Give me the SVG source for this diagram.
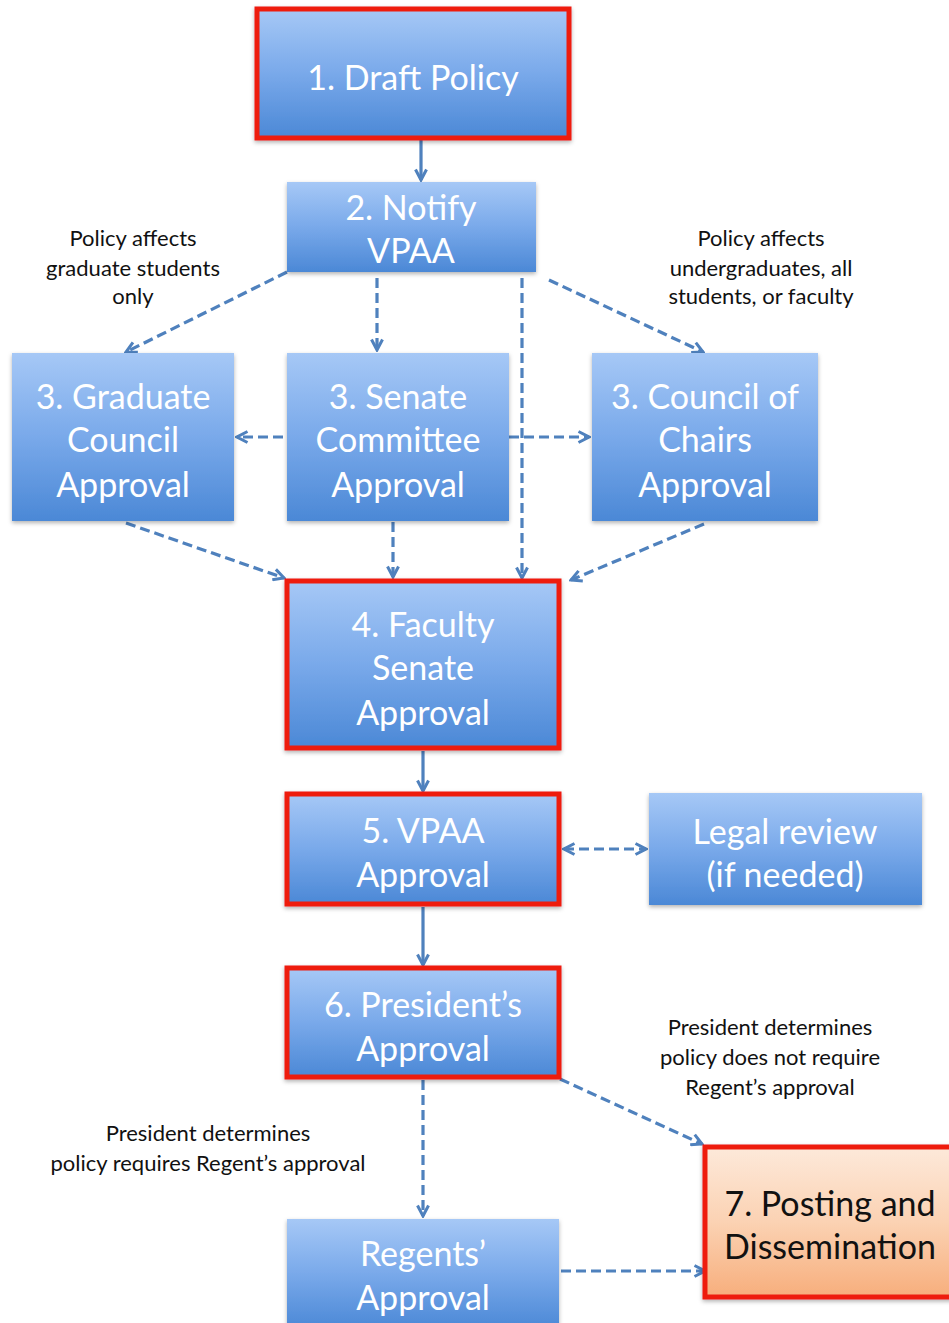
<svg xmlns="http://www.w3.org/2000/svg" width="949" height="1323" viewBox="0 0 949 1323">
<defs>
<linearGradient id="blue" x1="0" y1="0" x2="0" y2="1">
<stop offset="0" stop-color="#a6c8f6"/>
<stop offset="0.5" stop-color="#79a9ea"/>
<stop offset="1" stop-color="#4b88d6"/>
</linearGradient>
<linearGradient id="orange" x1="0" y1="0" x2="0" y2="1">
<stop offset="0" stop-color="#fde9da"/>
<stop offset="0.5" stop-color="#fbd2b3"/>
<stop offset="1" stop-color="#f7ae7c"/>
</linearGradient>
<filter id="sh" x="-10%" y="-10%" width="120%" height="130%">
<feDropShadow dx="0" dy="2" stdDeviation="2" flood-color="#000" flood-opacity="0.3"/>
</filter>
<marker id="arr" viewBox="0 0 14 14" refX="12" refY="7" markerWidth="14" markerHeight="14" markerUnits="userSpaceOnUse" orient="auto-start-reverse">
<path d="M1.5,1.5 L12,7 L1.5,12.5" fill="none" stroke="#4f81bd" stroke-width="3"/>
</marker>
</defs>
<style>
.box{fill:url(#blue);filter:url(#sh)}
.red{fill:url(#blue);stroke:#ee1c0e;stroke-width:5;filter:url(#sh)}
.org{fill:url(#orange);stroke:#ee1c0e;stroke-width:5;filter:url(#sh)}
.t{font-family:Lato,"Open Sans",sans-serif;font-size:34px;fill:#ffffff;text-anchor:middle}
.td{font-family:Lato,"Open Sans",sans-serif;font-size:34px;fill:#111111;text-anchor:middle}
.lb{font-family:Lato,"Open Sans",sans-serif;font-size:22px;fill:#111111;text-anchor:middle}
.c{fill:none;stroke:#4f81bd;stroke-width:3.2;marker-end:url(#arr)}
.d{stroke-dasharray:10,5}
</style>
<rect width="949" height="1323" fill="#ffffff"/>
<g id="connectors">
<line class="c" x1="421" y1="140" x2="421" y2="180"/>
<line class="c d" x1="287" y1="272" x2="126" y2="352"/>
<line class="c d" x1="377" y1="278" x2="377" y2="350"/>
<line class="c d" x1="522" y1="278" x2="522" y2="578"/>
<line class="c d" x1="549" y1="280" x2="703" y2="352"/>
<line class="c d" x1="298" y1="437" x2="237" y2="437"/>
<line class="c d" x1="509" y1="437" x2="589" y2="437"/>
<line class="c d" x1="126" y1="523" x2="284" y2="578"/>
<line class="c d" x1="393" y1="522" x2="393" y2="577"/>
<line class="c d" x1="704" y1="524" x2="571" y2="580"/>
<line class="c" x1="423" y1="751" x2="423" y2="791"/>
<line class="c d" x1="564" y1="849" x2="646" y2="849" marker-start="url(#arr)"/>
<line class="c" x1="423" y1="907" x2="423" y2="965"/>
<line class="c d" x1="423" y1="1080" x2="423" y2="1216"/>
<line class="c d" x1="560" y1="1079" x2="702" y2="1144"/>
<line class="c d" x1="561" y1="1271" x2="705" y2="1271"/>
</g>
<g id="n1"><rect class="red" x="257" y="9" width="312" height="129"/><text class="t" x="413" y="90">1. Draft Policy</text></g>
<g id="n2"><rect class="box" x="287" y="182" width="249" height="90"/><text class="t" x="411" y="220">2. Notify</text><text class="t" x="411" y="263">VPAA</text></g>
<g id="n3a"><rect class="box" x="12" y="353" width="222" height="168"/><text class="t" x="123" y="409">3. Graduate</text><text class="t" x="123" y="452">Council</text><text class="t" x="123" y="497">Approval</text></g>
<g id="n3b"><rect class="box" x="287" y="353" width="222" height="168"/><text class="t" x="398" y="409">3. Senate</text><text class="t" x="398" y="452">Committee</text><text class="t" x="398" y="497">Approval</text></g>
<g id="n3c"><rect class="box" x="592" y="353" width="226" height="168"/><text class="t" x="705" y="409">3. Council of</text><text class="t" x="705" y="452">Chairs</text><text class="t" x="705" y="497">Approval</text></g>
<g id="n4"><rect class="red" x="287" y="581" width="272" height="167"/><text class="t" x="423" y="637">4. Faculty</text><text class="t" x="423" y="680">Senate</text><text class="t" x="423" y="725">Approval</text></g>
<g id="n5"><rect class="red" x="287" y="794" width="272" height="110"/><text class="t" x="423" y="843">5. VPAA</text><text class="t" x="423" y="887">Approval</text></g>
<g id="nlegal"><rect class="box" x="649" y="793" width="273" height="112"/><text class="t" x="785" y="844">Legal review</text><text class="t" x="785" y="887">(if needed)</text></g>
<g id="n6"><rect class="red" x="287" y="968" width="272" height="109"/><text class="t" x="423" y="1017">6. President’s</text><text class="t" x="423" y="1061">Approval</text></g>
<g id="nregents"><rect class="box" x="287" y="1219" width="272" height="110"/><text class="t" x="423" y="1266">Regents’</text><text class="t" x="423" y="1310">Approval</text></g>
<g id="n7"><rect class="org" x="705" y="1147" width="250" height="150"/><text class="td" x="830" y="1216">7. Posting and</text><text class="td" x="830" y="1259">Dissemination</text></g>
<g id="labels">
<text class="lb" x="133" y="246">Policy affects</text><text class="lb" x="133" y="276">graduate students</text><text class="lb" x="133" y="304">only</text>
<text class="lb" x="761" y="246">Policy affects</text><text class="lb" x="761" y="276">undergraduates, all</text><text class="lb" x="761" y="304">students, or faculty</text>
<text class="lb" x="770" y="1035">President determines</text><text class="lb" x="770" y="1065">policy does not require</text><text class="lb" x="770" y="1095">Regent’s approval</text>
<text class="lb" x="208" y="1141">President determines</text><text class="lb" x="208" y="1171">policy requires Regent’s approval</text>
</g>
</svg>
